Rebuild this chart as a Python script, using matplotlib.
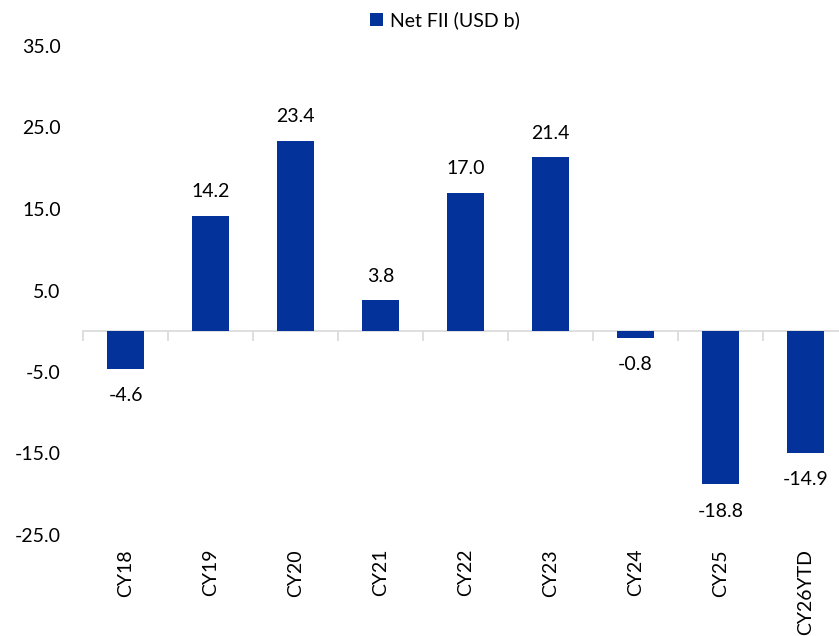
import numpy as np
import matplotlib
matplotlib.use("Agg")
import matplotlib.pyplot as plt

# data
years = ["CY18", "CY19", "CY20", "CY21", "CY22", "CY23", "CY24", "CY25", "CY26YTD"]
net_fii = [-4.6, 14.2, 23.4, 3.8, 17.0, 21.4, -0.8, -18.8, -14.9]
y_ticks = [-25.0, -15.0, -5.0, 5.0, 15.0, 25.0, 35.0]

bar_color = "#02329A"
grey = "#D9D9D9"

plt.rcParams["font.family"] = ["Lato", "DejaVu Sans"]
plt.rcParams["font.size"] = 14

fig = plt.figure(figsize=(8.39, 6.36), dpi=100)
# plot area runs a bit past the right edge, as in the reference crop
ax = fig.add_axes([83 / 839, 1 - 535 / 636, 765 / 839, (535 - 46) / 636])

x = np.arange(len(years))
bars = ax.bar(x, net_fii, width=0.44, color=bar_color, label="Net FII (USD b)",
              zorder=3)

ax.set_xlim(-0.5, len(years) - 0.5)
ax.set_ylim(y_ticks[0], y_ticks[-1])
ax.set_yticks(y_ticks)
ax.set_yticklabels([f"{v:.1f}" for v in y_ticks])
ax.tick_params(axis="y", length=0, pad=16, labelcolor="black")

ax.set_xticks(x)
ax.set_xticklabels(years, rotation=90, va="top")
ax.tick_params(axis="x", length=0, pad=10)

for s in ax.spines.values():
    s.set_visible(False)

# zero line with category boundary ticks
zero_frac = (0 - y_ticks[0]) / (y_ticks[-1] - y_ticks[0])
sec = ax.secondary_xaxis(zero_frac)
sec.set_xticks(np.arange(len(years) + 1) - 0.5)
sec.set_xticklabels([])
sec.tick_params(axis="x", length=7, width=1.2, color=grey)
sec.spines["bottom"].set_color(grey)
sec.spines["bottom"].set_linewidth(1.2)

for rect, v in zip(bars, net_fii):
    cx = rect.get_x() + rect.get_width() / 2
    if v >= 0:
        ax.annotate(f"{v:.1f}", (cx, v), xytext=(0, 11), textcoords="offset points",
                    ha="center", va="bottom")
    else:
        ax.annotate(f"{v:.1f}", (cx, v), xytext=(0, -13), textcoords="offset points",
                    ha="center", va="top")

fig.legend(handles=[bars], labels=["Net FII (USD b)"], loc="center",
           bbox_to_anchor=(0.53, 0.968), frameon=False, handlelength=0.7,
           handleheight=0.7, handletextpad=0.35)

fig.savefig("out.png", dpi=100)
